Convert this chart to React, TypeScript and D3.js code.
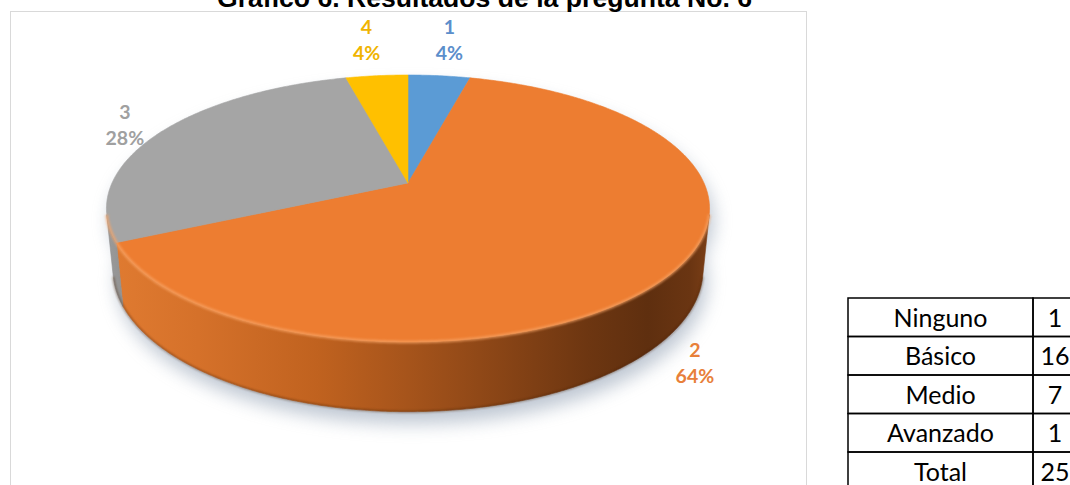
import React from 'react';
import * as d3 from 'd3';

// ---- data ----
const title = 'Gráfico 6. Resultados de la pregunta No. 6';
const categories = ['1', '2', '3', '4'];
const levelNames = ['Ninguno', 'Básico', 'Medio', 'Avanzado'];
const counts = [1, 16, 7, 1];
const totalName = 'Total';
const sliceColors = ['#5b9bd5', '#ed7d31', '#a5a5a5', '#ffc000'];
const labelColors = ['#5b8ecb', '#e8803a', '#a0a0a0', '#f0b400'];

// ---- 3D pie camera / geometry ----
const R = 296; // disc radius
const TILT = Math.asin(0.4345); // elevation of the view
const DIST = 1396; // perspective distance
const DEPTH = 68; // disc thickness
const CX = 408;
const CY = 183;

function project(alpha: number, r: number, h: number): [number, number] {
  const x = r * Math.sin(alpha);
  const z = -r * Math.cos(alpha);
  const yp = h * Math.cos(TILT) - z * Math.sin(TILT);
  const zp = h * Math.sin(TILT) + z * Math.cos(TILT);
  const s = DIST / (DIST - zp);
  return [CX + x * s, CY - yp * s];
}

function arcPts(a0: number, a1: number, r: number, h: number): [number, number][] {
  const n = Math.max(2, Math.ceil(Math.abs(a1 - a0) / 0.01));
  return d3.range(n + 1).map((i) => project(a0 + ((a1 - a0) * i) / n, r, h));
}

// range of angles where the outer wall faces the camera
const kVis = R / (DIST * Math.cos(TILT));
const VIS0 = Math.acos(-kVis);
const VIS1 = 2 * Math.PI - VIS0;

const line = d3.line<[number, number]>();

export default function App() {
  const total = d3.sum(counts);
  const pct = d3.format('.0%');
  const arcs = d3
    .pie<number>()
    .sort(null)
    .value((d) => d)(counts);

  const tops = arcs.map((a, i) => {
    const pts: [number, number][] = [[CX, CY], ...arcPts(a.startAngle, a.endAngle, R, 0)];
    return { d: line(pts) + 'Z', color: sliceColors[i] };
  });

  const walls = arcs
    .map((a, i) => {
      const s = Math.max(a.startAngle, VIS0);
      const e = Math.min(a.endAngle, VIS1);
      if (e <= s) return null;
      const pts = [...arcPts(s, e, R, 0), ...arcPts(e, s, R, -DEPTH)];
      return { d: line(pts) + 'Z', i, s, e };
    })
    .filter(Boolean) as { d: string; i: number; s: number; e: number }[];

  const shadowTop = line(arcPts(0, 2 * Math.PI, R, 0)) + 'Z';
  const shadowBottom = line(arcPts(0, 2 * Math.PI, R, -DEPTH)) + 'Z';
  const rimFront = line(arcPts(VIS0, VIS1, R, 0));
  const rimBottom = line(arcPts(VIS0, VIS1, R, -DEPTH));

  const fs = 19.5;
  const labels = arcs.map((a, i) => {
    const mid = (a.startAngle + a.endAngle) / 2;
    const front = Math.cos(mid) < 0;
    const [ax, ay] = project(mid, R, front ? -DEPTH : 0);
    let dx = ax - CX;
    let dy = ay - CY;
    const len = Math.hypot(dx, dy);
    dx /= len;
    dy /= len;
    const p = pct(counts[i] / total);
    const hw = p.length * 6.6;
    const hh = 20;
    const t = Math.min(hw / Math.max(Math.abs(dx), 1e-6), hh / Math.max(Math.abs(dy), 1e-6));
    return {
      x: ax + dx * (t + 16),
      y: ay + dy * (t + 16),
      name: categories[i],
      p,
      color: labelColors[i],
    };
  });

  // table layout
  const tx0 = 848;
  const tSplit = 1033;
  const tx1 = 1078;
  const rows = [...levelNames.map((n, i) => ({ n, v: counts[i] })), { n: totalName, v: total }];
  const rowY = d3
    .scaleLinear()
    .domain([0, rows.length])
    .range([298, 298 + 38.5 * rows.length]);

  return (
    <svg
      width={1070}
      height={485}
      style={{ position: 'absolute', left: 0, top: 0, background: '#fff' }}
      xmlns="http://www.w3.org/2000/svg"
    >
      <defs>
        <filter id="shadowBlur" x="-20%" y="-20%" width="140%" height="140%">
          <feGaussianBlur stdDeviation="9" />
        </filter>
        <filter id="soft" x="-5%" y="-5%" width="110%" height="110%">
          <feGaussianBlur stdDeviation="1.3" />
        </filter>
        <linearGradient id="wallOrange" gradientUnits="userSpaceOnUse" x1={CX - 300} y1={0} x2={CX + 300} y2={0}>
          <stop offset="0%" stopColor="#e07b31" />
          <stop offset="15%" stopColor="#d5712a" />
          <stop offset="35%" stopColor="#c0621f" />
          <stop offset="50%" stopColor="#a6541b" />
          <stop offset="65%" stopColor="#8a4516" />
          <stop offset="80%" stopColor="#6d3611" />
          <stop offset="90%" stopColor="#5f2f0f" />
          <stop offset="97%" stopColor="#6a3512" />
          <stop offset="100%" stopColor="#7a3e16" />
        </linearGradient>
        <linearGradient id="wallGray" gradientUnits="userSpaceOnUse" x1={CX - 300} y1={0} x2={CX - 270} y2={0}>
          <stop offset="0%" stopColor="#9a9a9a" />
          <stop offset="100%" stopColor="#8a8a8a" />
        </linearGradient>
      </defs>

      {/* chart frame */}
      <rect x={10.5} y={11.5} width={796} height={490} fill="#fff" stroke="#d9d9d9" strokeWidth={1} />

      {/* title */}
      <text
        x={217}
        y={6.5}
        fontFamily="'Liberation Sans', Arial, sans-serif"
        fontWeight="bold"
        fontSize={26.6}
        fill="#000"
      >
        {title}
      </text>

      {/* soft drop shadow */}
      <g filter="url(#shadowBlur)" transform="translate(4,12)" opacity={0.55}>
        <path d={shadowTop} fill="#8a9aae" />
        <path d={shadowBottom} fill="#8a9aae" />
      </g>

      {/* outer walls */}
      {walls.map((w) => (
        <path
          key={'w' + w.i}
          d={w.d}
          fill={w.i === 1 ? 'url(#wallOrange)' : w.i === 2 ? 'url(#wallGray)' : sliceColors[w.i]}
          stroke={w.i === 1 ? 'url(#wallOrange)' : w.i === 2 ? '#8f8f8f' : sliceColors[w.i]}
          strokeWidth={0.6}
        />
      ))}
      <path d={rimBottom ?? ''} fill="none" stroke="#4a250b" strokeWidth={2} opacity={0.45} filter="url(#soft)" />

      {/* top faces */}
      {tops.map((t, i) => (
        <path key={'t' + i} d={t.d} fill={t.color} stroke={t.color} strokeWidth={0.6} />
      ))}

      {/* bevel highlight on the front rim */}
      <path d={rimFront ?? ''} fill="none" stroke="#f8a466" strokeWidth={3} opacity={0.7} filter="url(#soft)" />

      {/* data labels */}
      {labels.map((l, i) => (
        <text
          key={'l' + i}
          textAnchor="middle"
          fontFamily="Lato, 'Open Sans', sans-serif"
          fontWeight="bold"
          fontSize={fs}
          fill={l.color}
        >
          <tspan x={l.x} y={l.y - 6}>
            {l.name}
          </tspan>
          <tspan x={l.x} y={l.y + 20}>
            {l.p}
          </tspan>
        </text>
      ))}

      {/* summary table */}
      <g fontFamily="Lato, 'Open Sans', sans-serif" fontSize={25} fill="#000">
        {rows.map((r, i) => (
          <g key={'r' + i}>
            <rect
              x={tx0}
              y={rowY(i)}
              width={tSplit - tx0}
              height={rowY(i + 1) - rowY(i)}
              fill="none"
              stroke="#000"
              strokeWidth={1.5}
            />
            <rect
              x={tSplit}
              y={rowY(i)}
              width={tx1 - tSplit}
              height={rowY(i + 1) - rowY(i)}
              fill="none"
              stroke="#000"
              strokeWidth={1.5}
            />
            <text x={(tx0 + tSplit) / 2} y={rowY(i) + 28.5} textAnchor="middle">
              {r.n}
            </text>
            <text x={1055} y={rowY(i) + 28.5} textAnchor="middle">
              {r.v}
            </text>
          </g>
        ))}
      </g>
    </svg>
  );
}
